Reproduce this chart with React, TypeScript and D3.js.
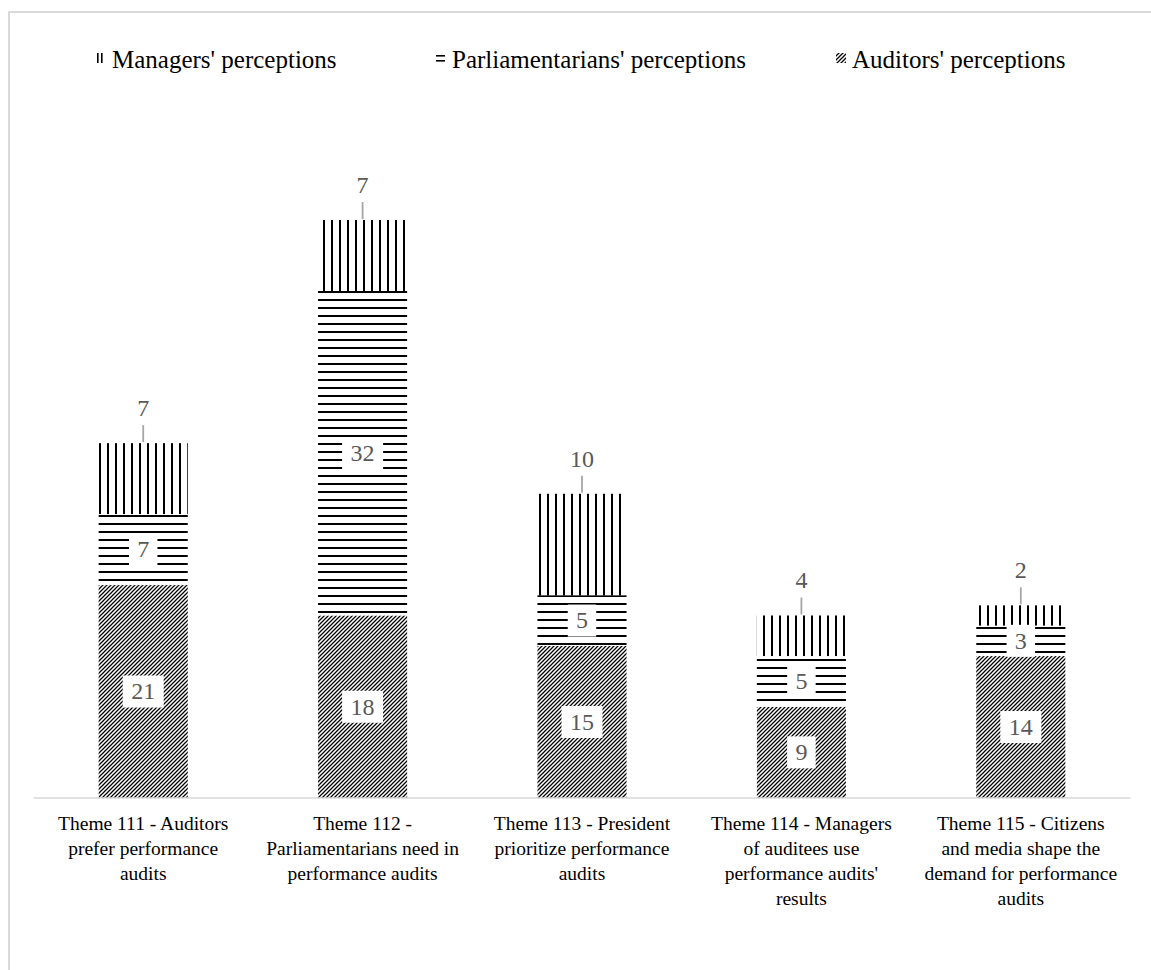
import * as d3 from "d3";

// chart data
const categories = ["Theme 111", "Theme 112", "Theme 113", "Theme 114", "Theme 115"];
const categoryLines = [
  ["Theme 111 - Auditors", "prefer performance", "audits"],
  ["Theme 112 -", "Parliamentarians need in", "performance audits"],
  ["Theme 113 - President", "prioritize performance", "audits"],
  ["Theme 114 - Managers", "of auditees use", "performance audits'", "results"],
  ["Theme 115 - Citizens", "and media shape the", "demand for performance", "audits"],
];
const auditors = [21, 18, 15, 9, 14];
const parliamentarians = [7, 32, 5, 5, 3];
const managers = [7, 7, 10, 4, 2];

const seriesKeys = ["auditors", "parliamentarians", "managers"];
const legendOrder = ["managers", "parliamentarians", "auditors"];
const seriesNames: Record<string, string> = {
  managers: "Managers' perceptions",
  parliamentarians: "Parliamentarians' perceptions",
  auditors: "Auditors' perceptions",
};
const patternIds: Record<string, string> = {
  managers: "pat-v",
  parliamentarians: "pat-h",
  auditors: "pat-d",
};

const W = 1151;
const H = 970;
const baseY = 798;

const serif = "'Liberation Serif', 'Times New Roman', serif";
const labelGray = "#595959";

function Swatch({ kind, x, y }: { kind: string; x: number; y: number }) {
  // small legend keys, drawn like the excel pattern chips
  if (kind === "managers") {
    return (
      <g fill="#000">
        <rect x={x + 1} y={y} width={1.6} height={10} />
        <rect x={x + 5} y={y} width={1.6} height={10} />
      </g>
    );
  }
  if (kind === "parliamentarians") {
    return (
      <g fill="#000">
        <rect x={x} y={y + 2} width={9} height={1.6} />
        <rect x={x} y={y + 7} width={9} height={1.6} />
      </g>
    );
  }
  return <rect x={x} y={y} width={10} height={10} fill="url(#pat-d)" />;
}

export default function App() {
  const rows = categories.map((c, i) => ({
    cat: c,
    auditors: auditors[i],
    parliamentarians: parliamentarians[i],
    managers: managers[i],
  }));
  const stacked = d3.stack<any>().keys(seriesKeys)(rows);

  const x = d3
    .scaleBand<string>()
    .domain(categories)
    .range([33.5, 1130.5])
    .paddingInner(0.594)
    .paddingOuter(0.297);
  const y = d3.scaleLinear().domain([0, 60]).range([baseY, baseY - 608.4]);

  const legendX = [96, 436, 836];
  const legendBase = 68;

  return (
    <svg
      width={W}
      height={H}
      style={{ position: "absolute", left: 0, top: 0, background: "#fff" }}
      fontFamily={serif}
    >
      <defs>
        <pattern id="pat-v" width={8} height={8} patternUnits="userSpaceOnUse">
          <rect width={8} height={8} fill="#fff" />
          <rect x={3} width={2} height={8} fill="#000" />
        </pattern>
        <pattern id="pat-h" width={8} height={8} patternUnits="userSpaceOnUse">
          <rect width={8} height={8} fill="#fff" />
          <rect y={3} width={8} height={2} fill="#000" />
        </pattern>
        <pattern id="pat-d" width={4} height={4} patternUnits="userSpaceOnUse">
          <rect width={4} height={4} fill="#fff" />
          <path d="M-1,1 L1,-1 M0,4 L4,0 M3,5 L5,3" stroke="#000" strokeWidth={1.25} />
        </pattern>
      </defs>

      <rect x={9} y={12} width={1300} height={1100} fill="none" stroke="#d9d9d9" strokeWidth={2} />

      {/* legend */}
      {legendOrder.map((k, i) => (
        <g key={k}>
          <Swatch kind={k} x={legendX[i]} y={legendBase - 15} />
          <text x={legendX[i] + 16} y={legendBase} fontSize={25} fill="#000">
            {seriesNames[k]}
          </text>
        </g>
      ))}

      {/* bars */}
      {stacked.map((s) => (
        <g key={s.key} fill={`url(#${patternIds[s.key]})`}>
          {s.map((d) => (
            <rect
              key={d.data.cat}
              x={x(d.data.cat)}
              y={y(d[1])}
              width={x.bandwidth()}
              height={y(d[0]) - y(d[1])}
            />
          ))}
        </g>
      ))}

      {/* axis line */}
      <line x1={33.5} x2={1130.5} y1={baseY} y2={baseY} stroke="#d9d9d9" strokeWidth={1.5} />

      {/* data labels */}
      {stacked.map((s) =>
        s.map((d) => {
          const v = d[1] - d[0];
          const cx = (x(d.data.cat) ?? 0) + x.bandwidth() / 2;
          const txt = String(v);
          const tw = txt.length * 12.5;
          if (s.key === "managers") {
            const top = y(d[1]);
            return (
              <g key={s.key + d.data.cat}>
                <line x1={cx} x2={cx} y1={top - 18} y2={top - 1} stroke="#a6a6a6" strokeWidth={1.8} />
                <text x={cx} y={top - 35} dy="0.33em" textAnchor="middle" fontSize={24} fill={labelGray}>
                  {txt}
                </text>
              </g>
            );
          }
          const cy = (y(d[0]) + y(d[1])) / 2;
          return (
            <g key={s.key + d.data.cat}>
              <rect x={cx - tw / 2 - 8} y={cy - 16} width={tw + 16} height={32} fill="#fff" />
              <text x={cx} y={cy} dy="0.33em" textAnchor="middle" fontSize={24} fill={labelGray}>
                {txt}
              </text>
            </g>
          );
        })
      )}

      {/* category labels */}
      {categories.map((c, i) => {
        const cx = (x(c) ?? 0) + x.bandwidth() / 2;
        return (
          <text key={c} textAnchor="middle" fontSize={19.5} fill="#000">
            {categoryLines[i].map((ln, j) => (
              <tspan key={j} x={cx} y={830 + j * 25}>
                {ln}
              </tspan>
            ))}
          </text>
        );
      })}
    </svg>
  );
}
